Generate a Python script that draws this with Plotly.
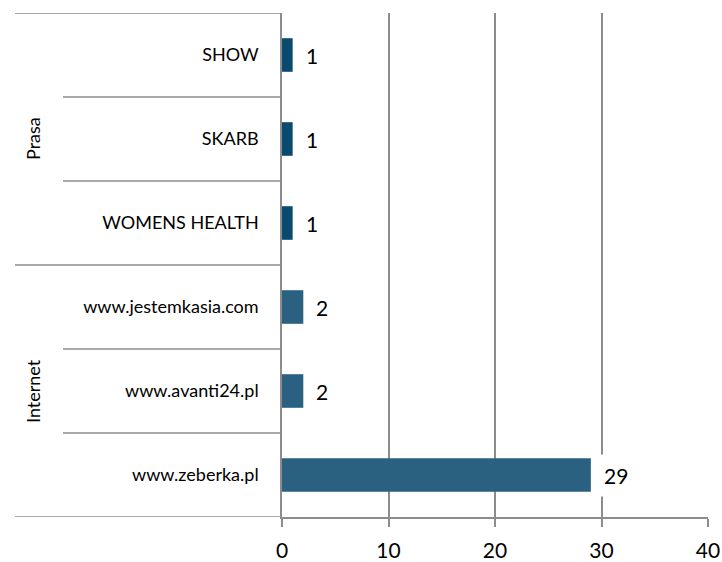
import plotly.graph_objects as go

# Data (bottom to top)
items = ["www.zeberka.pl", "www.avanti24.pl", "www.jestemkasia.com",
         "WOMENS HEALTH", "SKARB", "SHOW"]
groups = ["Internet", "Internet", "Internet", "Prasa", "Prasa", "Prasa"]
values = [29, 2, 2, 1, 1, 1]
group_names = ["Internet", "Prasa"]
group_colors = {"Internet": "#2A6180", "Prasa": "#0B4A6F"}
x_ticks = [0, 10, 20, 30, 40]

FONT = "Lato, 'Open Sans', sans-serif"
GRID = "#8C8C8C"

W, H = 722, 562
ML, MR, MT, MB = 282, 14, 13, 45
PW = W - ML - MR

fig = go.Figure()
fig.add_trace(go.Bar(
    y=list(range(len(items))), x=values, orientation="h",
    marker=dict(color=[group_colors[g] for g in groups], line=dict(width=0)),
    width=0.4, hoverinfo="x+y",
))

# value labels
for i, v in enumerate(values):
    fig.add_annotation(x=v, y=i, xref="x", yref="y", text=str(v),
                       showarrow=False, xanchor="left", yanchor="middle",
                       xshift=4,
                       font=dict(family=FONT, size=21, color="#000000"),
                       bgcolor="white", borderpad=8)

# separators left of the axis
inner_x0 = (63 - ML) / PW
outer_x0 = (15 - ML) / PW
for k in range(len(items) + 1):
    yb = k - 0.5
    is_group = k == 0 or k == len(items) or groups[k - 1] != groups[k]
    fig.add_shape(type="line", xref="paper", yref="y",
                  x0=outer_x0 if is_group else inner_x0, x1=0, y0=yb, y1=yb,
                  line=dict(color=GRID, width=1.5), layer="below")

# group labels
for g in group_names:
    idx = [i for i, gg in enumerate(groups) if gg == g]
    fig.add_annotation(x=(33 - ML) / PW, y=sum(idx) / len(idx), xref="paper",
                       yref="y", text=g, textangle=-90, showarrow=False,
                       xanchor="center", yanchor="middle",
                       font=dict(family=FONT, size=18, color="#000000"))

fig.update_layout(
    width=W, height=H,
    margin=dict(l=ML, r=MR, t=MT, b=MB),
    paper_bgcolor="white", plot_bgcolor="white",
    showlegend=False,
    xaxis=dict(range=[0, 40], tickvals=x_ticks,
               ticktext=[str(t) for t in x_ticks],
               showgrid=True, gridcolor=GRID, gridwidth=1.5,
               zeroline=False, showline=True, linecolor=GRID, linewidth=1.5,
               ticks="outside", ticklen=8, tickcolor=GRID, tickwidth=1.5,
               ticklabelstandoff=6,
               tickfont=dict(family=FONT, size=21, color="#000000"),
               automargin=False, fixedrange=True),
    yaxis=dict(range=[-0.5, len(items) - 0.5],
               tickvals=list(range(len(items))), ticktext=items,
               showgrid=False, zeroline=False,
               showline=True, linecolor=GRID, linewidth=1.5,
               ticks="", ticklabelstandoff=18,
               tickfont=dict(family=FONT, size=18, color="#000000"),
               automargin=False, fixedrange=True),
)

fig.write_html("out.html", config={"displayModeBar": False},
               post_script="document.body.style.margin='0';"
                           "document.body.style.overflow='hidden';")
